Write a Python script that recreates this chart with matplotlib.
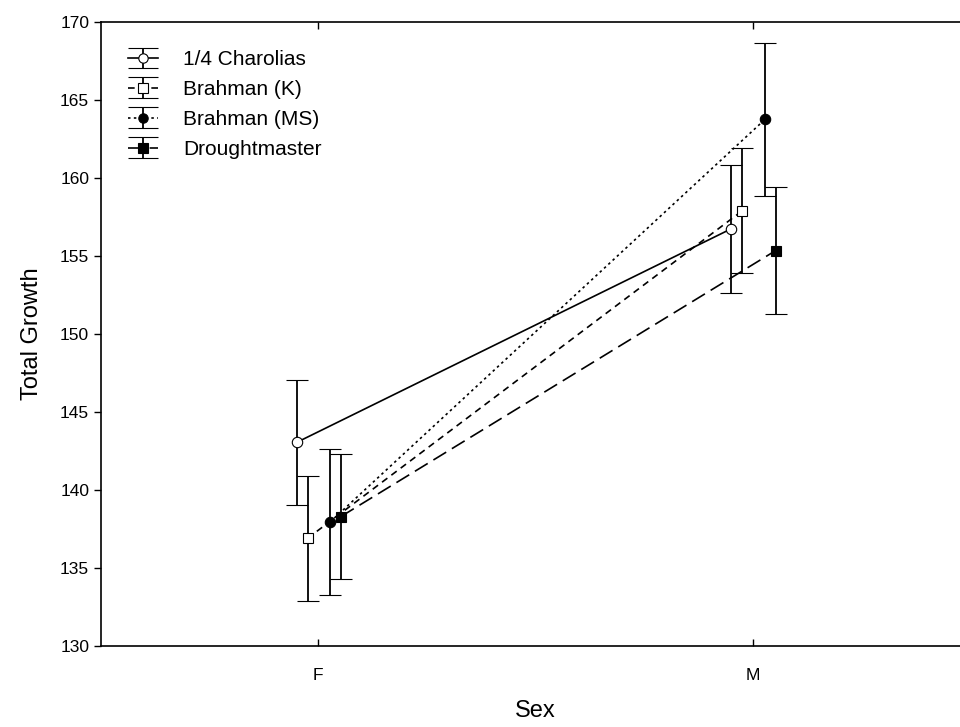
import numpy as np
import matplotlib
matplotlib.use("Agg")
import matplotlib.pyplot as plt
from matplotlib.lines import Line2D

plt.rcParams['font.family'] = ['Liberation Sans', 'DejaVu Sans']

# DATA
SEXES = ["F", "M"]
SERIES = ["1/4 Charolias", "Brahman (K)", "Brahman (MS)", "Droughtmaster"]
MEANS = {
    "1/4 Charolias": [143.05, 156.75],
    "Brahman (K)": [136.9, 157.9],
    "Brahman (MS)": [137.95, 163.75],
    "Droughtmaster": [138.3, 155.35],
}
ERRS = {
    "1/4 Charolias": [4.0, 4.1],
    "Brahman (K)": [4.0, 4.0],
    "Brahman (MS)": [4.7, 4.9],
    "Droughtmaster": [4.0, 4.05],
}

# style per series
offsets = [-0.05, -0.025, 0.027, 0.052]
styles = ["-", (0, (4, 3)), (0, (1.5, 2)), (0, (9, 4))]
markers = ["o", "s", "o", "s"]
faces = ["white", "white", "black", "black"]

fig = plt.figure(figsize=(9.6, 7.27), dpi=100)
ax = fig.add_axes([101 / 960, 81 / 727, 869.5 / 960, 624 / 727])

x = np.arange(len(SEXES))
for name, off, ls, mk, fc in zip(SERIES, offsets, styles, markers, faces):
    ax.errorbar(x + off, MEANS[name], yerr=ERRS[name], color="black",
                linestyle=ls, linewidth=1.2, marker=mk, markersize=7.5,
                markerfacecolor=fc, markeredgecolor="black", markeredgewidth=0.8,
                ecolor="black", elinewidth=1.3, capsize=8, capthick=1.3,
                label=name)

ax.set_xlim(-0.5, 1.5)
ax.set_ylim(130, 170)
ax.set_xticks(x)
ax.set_xticklabels(SEXES)
ax.set_yticks(np.arange(130, 171, 5))
ax.tick_params(axis="y", direction="out", length=5, width=1, labelsize=12.5)
ax.tick_params(axis="x", direction="in", length=5, width=1, labelsize=12.5,
               top=True, pad=16)
ax.spines["right"].set_visible(False)
for s in ["left", "bottom", "top"]:
    ax.spines[s].set_linewidth(1.2)

ax.set_xlabel("Sex", fontsize=17, labelpad=12)
ax.set_ylabel("Total Growth", fontsize=17, labelpad=12)

leg = ax.legend(loc="upper left", bbox_to_anchor=(0.021, 0.968), frameon=False,
                fontsize=15, handlelength=1.45, handletextpad=1.2,
                labelspacing=0.52, borderaxespad=0, markerscale=0.9)
# wider caps in the legend keys
for ln in leg.findobj(Line2D):
    if ln.get_marker() == "_":
        ln.set_markersize(21)

fig.savefig("out.png", dpi=100)
